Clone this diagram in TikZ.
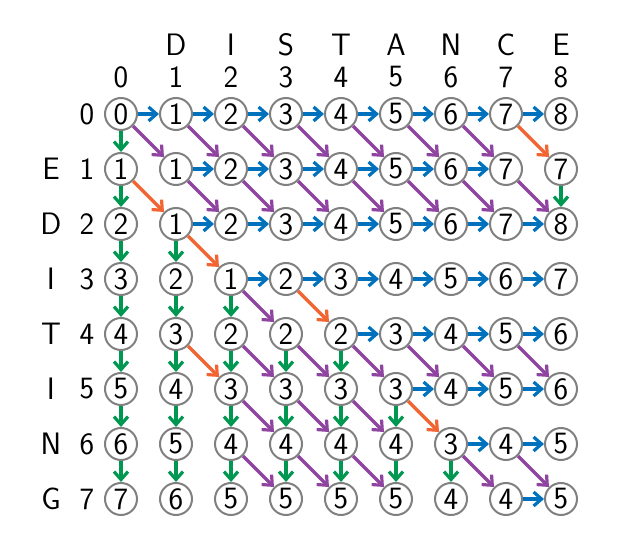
\documentclass[tikz,border=0pt]{standalone}
\usetikzlibrary{arrows.meta}
\definecolor{cblue}{RGB}{0,114,189}
\definecolor{cgreen}{RGB}{0,152,80}
\definecolor{cpurple}{RGB}{142,68,160}
\definecolor{corange}{RGB}{242,100,50}
\definecolor{cgray}{RGB}{128,128,128}
\begin{document}
\begin{tikzpicture}[x=1pt,y=-1pt,
  font=\sffamily\fontsize{31}{36}\selectfont,
  cell/.style={circle,draw=cgray,line width=2pt,minimum size=32pt,inner sep=0pt},
  lbl/.style={inner sep=0pt,anchor=center},
  arr/.style={line width=3.2pt,-{Straight Barb[length=8pt,width=14pt]}},
  ins/.style={arr,draw=cblue},
  del/.style={arr,draw=cgreen},
  sub/.style={arr,draw=cpurple},
  mat/.style={arr,draw=corange}]
\useasboundingbox (0,0) rectangle (630,537);
% column letters and numbers
\foreach \c [count=\k from 1] in {D,I,S,T,A,N,C,E}
  \node[lbl] (tl-\k) at (121+55*\k,45) {\c};
\foreach \k in {0,...,8}
  \node[lbl] (tn-\k) at (121+55*\k,77) {\k};
% row letters and numbers
\foreach \c [count=\k from 1] in {E,D,I,T,I,N,G}
  \node[lbl] (ll-\k) at (51,114+55*\k) {\c};
\foreach \k in {0,...,7}
  \node[lbl] (ln-\k) at (87,114+55*\k) {\k};
% cells
\foreach \row [count=\i from 0] in {
  {0,1,2,3,4,5,6,7,8},
  {1,1,2,3,4,5,6,7,7},
  {2,1,2,3,4,5,6,7,8},
  {3,2,1,2,3,4,5,6,7},
  {4,3,2,2,2,3,4,5,6},
  {5,4,3,3,3,3,4,5,6},
  {6,5,4,4,4,4,3,4,5},
  {7,6,5,5,5,5,4,4,5}}
  \foreach \v [count=\j from 0] in \row
    \node[cell] (n-\i-\j) at (121+55*\j,114+55*\i) {\v};
% insertions (horizontal)
\foreach \i/\j [evaluate=\j as \k using int(\j-1)] in {
  0/1,0/2,0/3,0/4,0/5,0/6,0/7,0/8,
  1/2,1/3,1/4,1/5,1/6,1/7,
  2/2,2/3,2/4,2/5,2/6,2/7,2/8,
  3/3,3/4,3/5,3/6,3/7,3/8,
  4/5,4/6,4/7,4/8,
  5/6,5/7,5/8,
  6/7,6/8,
  7/8}
  \draw[ins] (n-\i-\k) -- (n-\i-\j);
% deletions (vertical)
\foreach \i/\j [evaluate=\i as \h using int(\i-1)] in {
  1/0,2/0,3/0,4/0,5/0,6/0,7/0,
  2/8,
  3/1,
  4/1,4/2,
  5/1,5/2,5/3,5/4,
  6/1,6/2,6/3,6/4,6/5,
  7/1,7/2,7/3,7/4,7/5,7/6}
  \draw[del] (n-\h-\j) -- (n-\i-\j);
% substitutions (diagonal)
\foreach \i/\j [evaluate=\i as \h using int(\i-1), evaluate=\j as \k using int(\j-1)] in {
  1/1,1/2,1/3,1/4,1/5,1/6,1/7,
  2/2,2/3,2/4,2/5,2/6,2/7,2/8,
  4/3,
  5/3,5/4,5/5,5/6,5/7,5/8,
  6/3,6/4,6/5,
  7/3,7/4,7/5,7/7,7/8}
  \draw[sub] (n-\h-\k) -- (n-\i-\j);
% matches (diagonal)
\foreach \i/\j [evaluate=\i as \h using int(\i-1), evaluate=\j as \k using int(\j-1)] in {
  1/8,2/1,3/2,4/4,5/2,6/6}
  \draw[mat] (n-\h-\k) -- (n-\i-\j);
\end{tikzpicture}
\end{document}
